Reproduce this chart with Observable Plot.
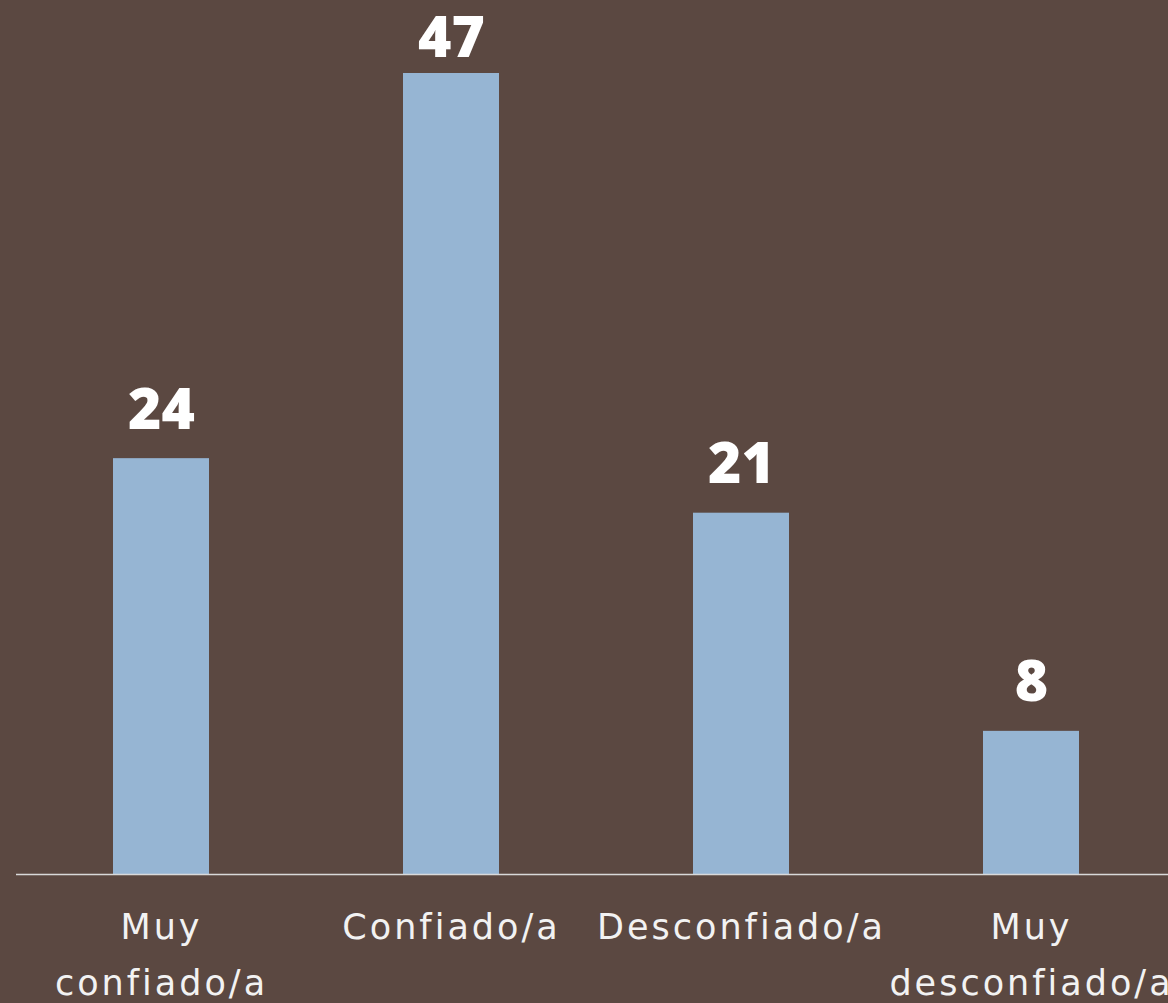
<!DOCTYPE html>
<html>
<head>
<meta charset="utf-8">
<script src="https://cdn.jsdelivr.net/npm/d3@7"></script>
<script src="https://cdn.jsdelivr.net/npm/@observablehq/plot@0.6"></script>
<style>
  html, body { margin: 0; padding: 0; background: #5b4841; }
  #chart svg { display: block; }
  #chart g[aria-label="x-axis tick label"] text { letter-spacing: 3px; }
</style>
</head>
<body>
<div id="chart"></div>
<script>
const categories = ["Muy\nconfiado/a", "Confiado/a", "Desconfiado/a", "Muy\ndesconfiado/a"];
const values = [24.4, 47.0, 21.2, 8.4];
const data = categories.map((c, i) => ({category: c, value: values[i]}));

const chart = Plot.plot({
  width: 1168,
  height: 1003,
  marginLeft: 16,
  marginRight: 0,
  marginTop: 0,
  marginBottom: 129,
  style: {background: "#5b4841", fontFamily: "'DejaVu Sans', sans-serif", overflow: "visible"},
  x: {domain: categories, range: [16, 1176], paddingInner: 0.669, paddingOuter: 0.3345, align: 0.5, label: null},
  y: {domain: [0, 47], range: [874, 73], axis: null},
  marks: [
    Plot.barY(data, {x: "category", y: "value", fill: "#96b5d3"}),
    Plot.ruleY([0], {stroke: "#d9d9d9", strokeWidth: 1.5}),
    Plot.text(data, {
      x: "category", y: "value",
      text: d => d3.format(".0f")(d.value),
      dy: -30, lineAnchor: "bottom", fill: "#ffffff",
      fontSize: 57, fontWeight: 800, fontFamily: "'Open Sans', sans-serif",
      render: (index, scales, values, dims, ctx, next) =>
        next(index, scales, {...values, y: Array.from(values.y, v => Math.max(v, 86))}, dims, ctx)
    }),
    Plot.axisX({tickSize: 0, tickPadding: 25, fontSize: 35, lineHeight: 1.6, fill: "#f2f2f2", color: "#f2f2f2", label: null, fontFamily: "'DejaVu Sans', sans-serif"})
  ]
});
document.getElementById("chart").appendChild(chart);
</script>
</body>
</html>
